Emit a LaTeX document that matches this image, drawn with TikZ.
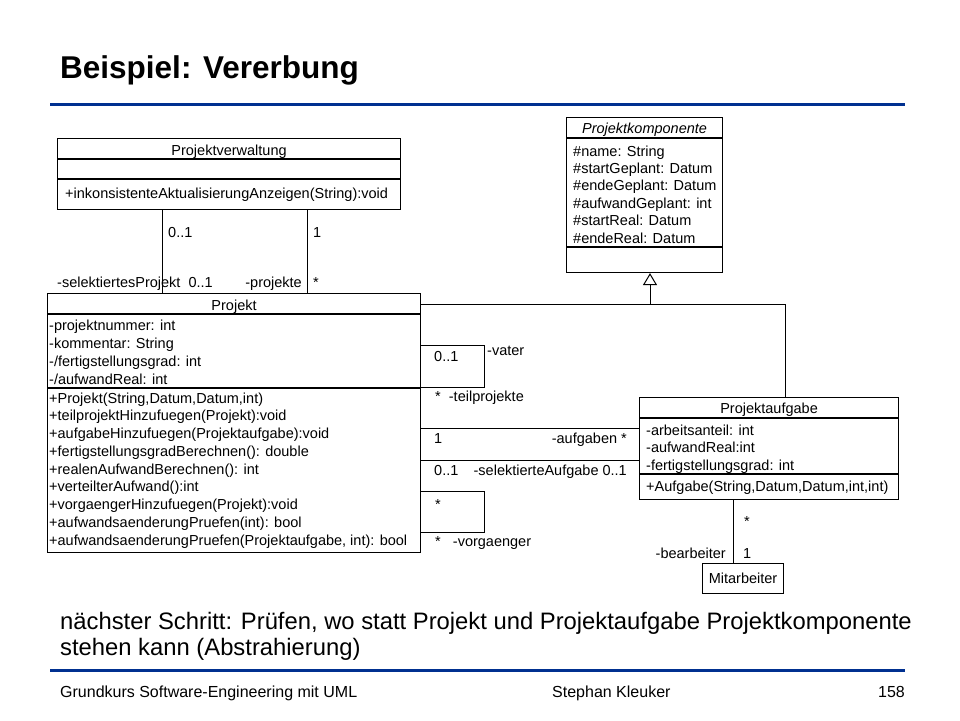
\documentclass[tikz,border=0pt]{standalone}
\usepackage{fontspec}
\setmainfont{Liberation Sans}
\usetikzlibrary{arrows.meta,calc}
\definecolor{folienblau}{RGB}{0,48,144}
\newcommand{\umlschrift}{\fontsize{14.5}{17.5}\selectfont}

\tikzset{
  klasse/.style={draw, line width=1.1pt, anchor=north west, inner sep=0pt},
  trenner/.style={line width=1.1pt},
  eintrag/.style={anchor=base west, inner sep=0pt, font=\umlschrift},
  kname/.style={anchor=base, inner sep=0pt, font=\umlschrift},
  rolle/.style={anchor=base west, inner sep=0pt, font=\umlschrift},
  rollerechts/.style={anchor=base east, inner sep=0pt, font=\umlschrift},
  verbindung/.style={line width=1pt},
  vererbung/.style={line width=1pt, -{Triangle[open, length=12pt, width=14pt]}},
  folienlinie/.style={folienblau, line width=3pt},
}

\begin{document}
\begin{tikzpicture}[x=1pt, y=-1pt]
\useasboundingbox (0,0) rectangle (960,720);

%% Kopfzeile
\node[anchor=base west, inner sep=0pt, font=\fontsize{31.5}{36}\selectfont\bfseries] (titel) at (60,78) {Beispiel: Vererbung};
\draw[folienlinie] (50,104) -- (905,104);

%% Projektverwaltung
\node[klasse, minimum width=343pt, minimum height=71pt] (pv) at (57,138) {};
\draw[trenner] (pv.north west) ++(0,21) -- ++(343,0);
\draw[trenner] (pv.north west) ++(0,41) -- ++(343,0);
\node[kname] (pvname) at ($(pv.north)+(0,17)$) {Projektverwaltung};
\node[eintrag] (pvm1) at ($(pv.north west)+(8,60)$) {+inkonsistenteAktualisierungAnzeigen(String):void};

%% Projektkomponente
\node[klasse, minimum width=156pt, minimum height=155pt] (pk) at (566,117) {};
\draw[trenner] (pk.north west) ++(0,21) -- ++(156,0);
\draw[trenner] (pk.north west) ++(0,130) -- ++(156,0);
\node[kname] (pkname) at ($(pk.north)+(0,16)$) {\itshape Projektkomponente};
\foreach \zeile [count=\i] in {\#name: String, \#startGeplant: Datum, \#endeGeplant: Datum,
    \#aufwandGeplant: int, \#startReal: Datum, \#endeReal: Datum}
  \node[eintrag] (pka\i) at ($(pk.north west)+(7,{39+17.4*(\i-1)})$) {\zeile};

%% Projekt
\node[klasse, minimum width=373pt, minimum height=259pt] (pj) at (47,293) {};
\draw[trenner] (pj.north west) ++(0,21) -- ++(373,0);
\draw[trenner] (pj.north west) ++(0,95) -- ++(373,0);
\node[kname] (pjname) at ($(pj.north)+(0,17)$) {Projekt};
\foreach \zeile [count=\i] in {-projektnummer: int, -kommentar: String,
    -/fertigstellungsgrad: int, -/aufwandReal: int}
  \node[eintrag] (pja\i) at ($(pj.north west)+(2,{37+18*(\i-1)})$) {\zeile};
\foreach \zeile [count=\i] in {{+Projekt(String,Datum,Datum,int)},
    +teilprojektHinzufuegen(Projekt):void,
    +aufgabeHinzufuegen(Projektaufgabe):void,
    +fertigstellungsgradBerechnen(): double,
    +realenAufwandBerechnen(): int,
    +verteilterAufwand():int,
    +vorgaengerHinzufuegen(Projekt):void,
    +aufwandsaenderungPruefen(int): bool,
    {+aufwandsaenderungPruefen(Projektaufgabe, int): bool}}
  \node[eintrag] (pjm\i) at ($(pj.north west)+(2,{110+17.75*(\i-1)})$) {\zeile};

%% Projektaufgabe
\node[klasse, minimum width=259pt, minimum height=102pt] (pa) at (639,397) {};
\draw[trenner] (pa.north west) ++(0,21) -- ++(259,0);
\draw[trenner] (pa.north west) ++(0,77) -- ++(259,0);
\node[kname] (paname) at ($(pa.north)+(0,16)$) {Projektaufgabe};
\foreach \zeile [count=\i] in {-arbeitsanteil: int, -aufwandReal:int, -fertigstellungsgrad: int}
  \node[eintrag] (paa\i) at ($(pa.north west)+(7,{38+17.5*(\i-1)})$) {\zeile};
\node[eintrag] (pam1) at ($(pa.north west)+(7,94)$) {+Aufgabe(String,Datum,Datum,int,int)};

%% Mitarbeiter
\node[klasse, minimum width=81pt, minimum height=30pt] (ma) at (702,563) {};
\node[kname] (maname) at ($(ma.north)+(0,20)$) {Mitarbeiter};

%% Assoziationen Projektverwaltung - Projekt
\coordinate (selp) at ($(pv.south west)+(105,0)$);
\coordinate (proj) at ($(pv.south west)+(250,0)$);
\draw[verbindung] (selp) -- (selp |- pj.north);
\draw[verbindung] (proj) -- (proj |- pj.north);
\node[rolle] (m1) at (168,237) {0..1};
\node[rolle] (m2) at (313,237) {1};
\node[rolle] (m3) at (57,287) {-selektiertesProjekt\ \ 0..1};
\node[rollerechts] (m4) at (302,287) {-projekte};
\node[rolle] (m5) at (313,287) {*};

%% Teilprojekte
\coordinate (vater) at ($(pj.north east)+(0,52)$);
\draw[verbindung] (vater) -- ++(63,0) -- ++(0,42) -- ++(-63,0);
\node[rolle] (m6) at (434,361) {0..1};
\node[rolle] (m7) at (487,355) {-vater};
\node[rolle] (m8) at (435,401) {*\ \ -teilprojekte};

%% Aufgaben
\coordinate (aufg) at ($(pj.north east)+(0,135)$);
\coordinate (sela) at ($(pj.north east)+(0,167)$);
\draw[verbindung] (aufg) -- (aufg -| pa.west);
\draw[verbindung] (sela) -- (sela -| pa.west);
\node[rolle] (m9) at (434,443) {1};
\node[rollerechts] (m10) at (627,443) {-aufgaben *};
\node[rolle] (m11) at (434,475) {0..1};
\node[rollerechts] (m12) at (627,475) {-selektierteAufgabe 0..1};

%% Vorgaenger
\coordinate (vorg) at ($(pj.north east)+(0,198)$);
\draw[verbindung] (vorg) -- ++(63,0) -- ++(0,41) -- ++(-63,0);
\node[rolle] (m13) at (435,509) {*};
\node[rolle] (m14) at (435,546) {*\ \ \ -vorgaenger};

%% Vererbung
\coordinate (gen) at ($(pk.south west)+(84,31)$);
\coordinate (genpa) at ($(pa.north west)+(146,0)$);
\draw[verbindung] (pj.east |- gen) -| (genpa);
\draw[vererbung] (gen) -- (gen |- pk.south);

%% Bearbeiter
\coordinate (bearb) at ($(ma.north west)+(31,0)$);
\draw[verbindung] (bearb |- pa.south) -- (bearb);
\node[rolle] (m15) at (744,526) {*};
\node[rollerechts] (m16) at (726,558) {-bearbeiter};
\node[rolle] (m17) at (743,558) {1};

%% Fusszeile
\node[anchor=base west, inner sep=0pt, font=\fontsize{23.8}{26}\selectfont] (txt1) at (60,629) {nächster Schritt: Prüfen, wo statt Projekt und Projektaufgabe Projektkomponente};
\node[anchor=base west, inner sep=0pt, font=\fontsize{23.8}{26}\selectfont] (txt2) at (60,655) {stehen kann (Abstrahierung)};
\draw[folienlinie] (50,670) -- (905,670);
\node[anchor=base west, inner sep=0pt, font=\fontsize{16}{19}\selectfont] (fuss1) at (60,697) {Grundkurs Software-Engineering mit UML};
\node[anchor=base west, inner sep=0pt, font=\fontsize{16}{19}\selectfont] (fuss2) at (552,697) {Stephan Kleuker};
\node[anchor=base east, inner sep=0pt, font=\fontsize{16}{19}\selectfont] (fuss3) at (905,697) {158};

\end{tikzpicture}
\end{document}
